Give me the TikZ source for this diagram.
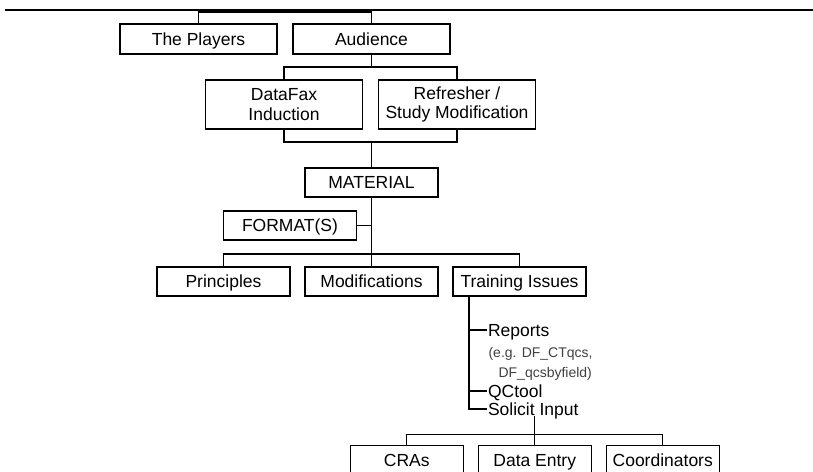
\documentclass[tikz,border=0pt]{standalone}
\usepackage{fontspec}
\setmainfont{Liberation Sans}
\usetikzlibrary{positioning, calc}

\begin{document}
\begin{tikzpicture}[x=1pt, y=-1pt, line width=1.1pt, every node/.style={font=\fontsize{17.5}{19.5}\selectfont},
    frame/.style={rectangle, draw, inner sep=0pt, outer sep=0pt, align=center, minimum width=133pt},
    box/.style={frame, minimum height=29pt, text height=12.6pt, text depth=0pt},
    item/.style={anchor=west, inner sep=1pt, outer sep=0pt, text height=12.6pt, text depth=0pt}]
    \useasboundingbox (0,0) rectangle (813,471);
    \clip (0,0) rectangle (813,471);

    \coordinate (rulestart) at (5,10);
    \coordinate (ruleend) at (813,10);
    \draw (rulestart) -- (ruleend);

    \node[box, minimum width=157pt, minimum height=30pt] (players) at (198.5,39) {The Players};
    \node[box, minimum width=157pt, minimum height=30pt, right=16pt of players] (audience) {Audience};
    \node[frame, minimum width=157pt, minimum height=49pt, below=26pt of players.south east, xshift=7pt] (datafax) {DataFax\\Induction};
    \node[frame, minimum width=157pt, minimum height=49pt, right=16pt of datafax] (refresher) {Refresher /\\Study Modification};
    \node[box, below=39pt of datafax.south east, xshift=9pt] (material) {MATERIAL};
    \node[box, below left=14pt and 15pt of material.south] (format) {FORMAT(S)};
    \node[box, below=70pt of material] (modifications) {Modifications};
    \node[box, left=15pt of modifications] (principles) {Principles};
    \node[box, right=15pt of modifications] (training) {Training Issues};

    \coordinate (trunk) at ($(training.south west)+(16,0)$);
    \node[item] (reports) at ($(trunk)+(18,34)$) {Reports};
    \node[anchor=west, inner sep=1pt, align=left, text=black!75, font=\fontsize{14}{20}\selectfont] (example) at ($(trunk)+(18,68)$) {(e.g. DF\_CTqcs,\\\hspace*{10pt}DF\_qcsbyfield)};
    \node[item] (qctool) at ($(trunk)+(18,95)$) {QCtool};
    \node[item] (solicit) at ($(trunk)+(18,113)$) {Solicit Input};

    \node[box, minimum width=113pt, below=29pt of solicit, xshift=1.5pt] (dataentry) {Data Entry};
    \node[box, minimum width=113pt, left=15pt of dataentry] (cras) {CRAs};
    \node[box, minimum width=113pt, right=15pt of dataentry] (coordinators) {Coordinators};

    \draw (players.north) -- ++(0,-12) -| (audience.north);
    \draw (audience.south) -- ++(0,13) coordinate (split1);
    \draw (datafax.north) |- (split1) -| (refresher.north);
    \draw (datafax.south) -- ++(0,13) coordinate (join1) -| (refresher.south);
    \draw (material.north) -- (material.north |- join1);
    \draw (material.south) -- (modifications.north);
    \draw (format.east) -- (format.east -| material.south);
    \draw (principles.north) -- ++(0,-13) -| (training.north);
    \draw (trunk) |- (solicit.west);
    \draw (reports.west) -- (reports.west -| trunk);
    \draw (qctool.west) -- (qctool.west -| trunk);
    \draw (dataentry.north) -- (dataentry.north |- solicit.south);
    \draw (cras.north) -- ++(0,-11) -| (coordinators.north);
\end{tikzpicture}
\end{document}
